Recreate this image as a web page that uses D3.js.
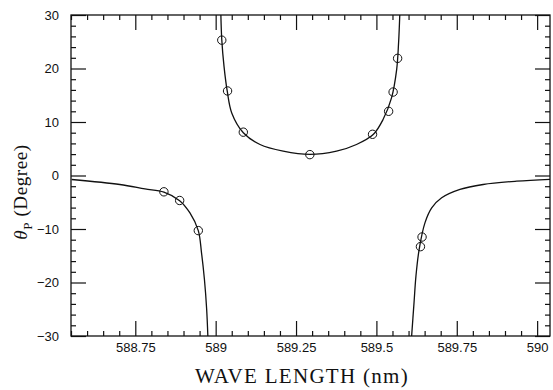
<!DOCTYPE html>
<html>
<head>
<meta charset="utf-8">
<script src="https://cdn.jsdelivr.net/npm/d3@7"></script>
<style>
  body { margin: 0; background: #fff; }
  .tick text { font-family: "Liberation Sans", Arial, sans-serif; font-size: 13px; fill: #111; }
  .domain { display: none; }
  .tick line { stroke: #111; stroke-width: 1.2; }
</style>
</head>
<body>
<script>
// tick labels
const xMajor = [588.75, 589, 589.25, 589.5, 589.75, 590];
const yMajor = [-30, -20, -10, 0, 10, 20, 30];

// measured points (circles)
const obsWave  = [588.839, 588.888, 588.946, 589.019, 589.037, 589.086, 589.293, 589.488, 589.538, 589.552, 589.566, 589.637, 589.642];
const obsTheta = [-3.05, -4.67, -10.3, 25.3, 15.8, 8.1, 3.9, 7.7, 12.0, 15.6, 21.9, -13.3, -11.5];

// fitted curve, three branches
const leftWave  = [588.552, 588.702, 588.780, 588.839, 588.888, 588.920, 588.946, 588.956, 588.965, 588.972, 588.976];
const leftTheta = [-0.75, -1.68, -2.5, -3.1, -4.7, -7.0, -10.3, -14.45, -19.4, -25, -30.5];
const midWave  = [589.016, 589.019, 589.026, 589.036, 589.050, 589.086, 589.138, 589.210, 589.293, 589.376, 589.438, 589.490, 589.521, 589.547, 589.563, 589.569, 589.573];
const midTheta = [30.5, 25.4, 20.4, 15.76, 11.7, 8.0, 5.8, 4.55, 3.93, 4.55, 5.8, 7.66, 10.5, 14.5, 19.8, 24.8, 30.5];
const rightWave  = [589.609, 589.617, 589.623, 589.633, 589.651, 589.672, 589.703, 589.760, 589.832, 589.936, 590.04];
const rightTheta = [-30.5, -23.8, -18.8, -13.8, -8.85, -6.05, -4.17, -2.6, -1.68, -1.06, -0.72];

const W = 553, H = 390;
const margin = { top: 15, right: 3, bottom: 54, left: 71 };

const svg = d3.select('body').append('svg')
  .attr('width', W)
  .attr('height', H);

const x = d3.scaleLinear().domain([588.55, 590.04]).range([margin.left, W - margin.right]);
const y = d3.scaleLinear().domain([-30, 30]).range([H - margin.bottom, margin.top]);

const xMinor = d3.range(0, 30).map(i => +(588.55 + i * 0.05).toFixed(2)).filter(v => !xMajor.includes(v));
const yMinor = d3.range(-30, 31, 2).filter(v => v % 10 !== 0);

const fmtX = d => String(d);
const fmtY = d => d < 0 ? '\u2212' + Math.abs(d) : String(d);

const big = 15, small = 5;
const bottom = H - margin.bottom, right = W - margin.right;

// bottom
svg.append('g').attr('transform', `translate(0,${bottom})`)
  .call(d3.axisBottom(x).tickValues(xMajor).tickFormat(fmtX).tickSize(-big).tickPadding(7));
svg.append('g').attr('transform', `translate(0,${bottom})`)
  .call(d3.axisBottom(x).tickValues(xMinor).tickFormat('').tickSize(-small));
// top
svg.append('g').attr('transform', `translate(0,${margin.top})`)
  .call(d3.axisTop(x).tickValues(xMajor).tickFormat('').tickSize(-big));
svg.append('g').attr('transform', `translate(0,${margin.top})`)
  .call(d3.axisTop(x).tickValues(xMinor).tickFormat('').tickSize(-small));
// left
svg.append('g').attr('transform', `translate(${margin.left},0)`)
  .call(d3.axisLeft(y).tickValues(yMajor).tickFormat(fmtY).tickSize(-big).tickPadding(12));
svg.append('g').attr('transform', `translate(${margin.left},0)`)
  .call(d3.axisLeft(y).tickValues(yMinor).tickFormat('').tickSize(-small));
// right
svg.append('g').attr('transform', `translate(${right},0)`)
  .call(d3.axisRight(y).tickValues(yMajor).tickFormat('').tickSize(-big));
svg.append('g').attr('transform', `translate(${right},0)`)
  .call(d3.axisRight(y).tickValues(yMinor).tickFormat('').tickSize(-small));

// frame
svg.append('rect')
  .attr('x', margin.left).attr('y', margin.top)
  .attr('width', right - margin.left).attr('height', bottom - margin.top)
  .attr('fill', 'none').attr('stroke', '#111').attr('stroke-width', 1.3);

// clip
svg.append('clipPath').attr('id', 'plot')
  .append('rect')
  .attr('x', margin.left).attr('y', margin.top)
  .attr('width', right - margin.left).attr('height', bottom - margin.top);

const line = d3.line()
  .x(d => x(d[0]))
  .y(d => y(d[1]))
  .curve(d3.curveCatmullRom.alpha(0.5));

const branches = [
  d3.zip(leftWave, leftTheta),
  d3.zip(midWave, midTheta),
  d3.zip(rightWave, rightTheta),
];

svg.append('g').attr('clip-path', 'url(#plot)')
  .selectAll('path')
  .data(branches)
  .enter().append('path')
  .attr('d', line)
  .attr('fill', 'none')
  .attr('stroke', '#111')
  .attr('stroke-width', 1.3);

svg.append('g')
  .selectAll('circle')
  .data(d3.zip(obsWave, obsTheta))
  .enter().append('circle')
  .attr('cx', d => x(d[0]))
  .attr('cy', d => y(d[1]))
  .attr('r', 4.2)
  .attr('fill', 'none')
  .attr('stroke', '#111')
  .attr('stroke-width', 1);

// axis titles
svg.append('text')
  .attr('x', 302)
  .attr('y', 383)
  .attr('text-anchor', 'middle')
  .style('font-family', '"Liberation Serif", "Times New Roman", serif')
  .style('font-size', '21px')
  .style('letter-spacing', '1.3px')
  .style('fill', '#111')
  .text('WAVE LENGTH (nm)');

const yt = svg.append('text')
  .attr('transform', 'translate(27,192) rotate(-90)')
  .attr('text-anchor', 'middle')
  .style('font-family', '"Liberation Serif", "Times New Roman", serif')
  .style('font-size', '19px')
  .style('letter-spacing', '0.6px')
  .style('fill', '#111');
yt.append('tspan').style('font-style', 'italic').text('\u03b8');
yt.append('tspan').attr('dy', 5).style('font-size', '13px').text('P');
yt.append('tspan').attr('dy', -5).text(' (Degree)');
</script>
</body>
</html>
